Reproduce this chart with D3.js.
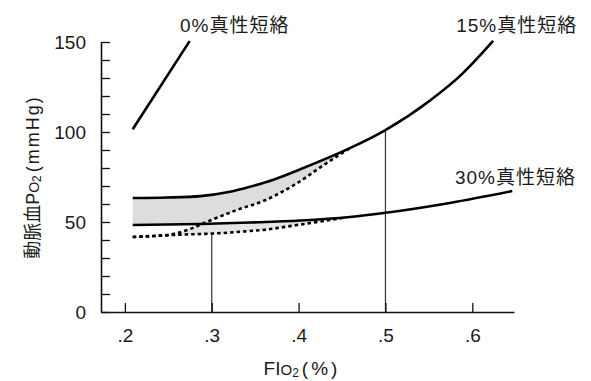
<!DOCTYPE html>
<html><head><meta charset="utf-8">
<script src="https://cdn.jsdelivr.net/npm/d3@7"></script>
<style>
html,body{margin:0;padding:0;background:#fff;}
svg text{font-family:"Liberation Sans","Noto Sans CJK JP",Arial,sans-serif;fill:#1a1a1a;font-weight:normal;}
</style></head>
<body><svg id="c" width="591" height="381"></svg>
<script>
// ---- data ----
const xTicks = [0.2, 0.3, 0.4, 0.5, 0.6];
const xTickLabels = [".2", ".3", ".4", ".5", ".6"];
const yTicks = [0,10,20,30,40,50,60,70,80,90,100,110,120,130,140,150];
const yTickLabels = {0:"0", 50:"50", 100:"100", 150:"150"};

const shunt0 = [[0.209,101.5],[0.2745,150.5]];
const shunt15 = [[0.209,63.3],[0.249,63.6],[0.287,64.4],[0.321,66.8],[0.344,69.6],[0.371,73.5],[0.402,79.3],[0.459,91.0],[0.499,100.8],[0.551,117.4],[0.589,132.6],[0.624,150.6]];
const shunt30 = [[0.209,48.3],[0.287,48.9],[0.344,49.7],[0.402,50.8],[0.459,52.8],[0.498,55.0],[0.574,60.6],[0.646,67.2]];
const dottedUpper = [[0.209,41.7],[0.249,42.8],[0.272,45.6],[0.295,50.2],[0.329,56.7],[0.359,61.6],[0.398,71.5],[0.430,82.0],[0.459,91.0]];
const dottedLower = [[0.209,41.7],[0.272,43.1],[0.302,43.6],[0.333,44.6],[0.359,45.6],[0.398,48.3],[0.436,51.1],[0.450,52.2]];
const refLines = [[0.3,43.6],[0.5,100.8]];
const labels = [
  {text:"0%真性短絡", x:0.2635, y:155.5},
  {text:"15%真性短絡", x:0.5815, y:155.5},
  {text:"30%真性短絡", x:0.580, y:71.3}
];

// ---- chart ----
const svg = d3.select("#c");
const x = d3.scaleLinear().domain([0.1725, 0.648]).range([101, 514]);
const y = d3.scaleLinear().domain([0, 150]).range([312, 42]);
const line = d3.line().x(d=>x(d[0])).y(d=>y(d[1])).curve(d3.curveMonotoneX);

const defs = svg.append("defs");
const uEnd = dottedUpper[dottedUpper.length-1];
defs.append("clipPath").attr("id","aboveU").append("path")
  .attr("d", line(dottedUpper) + "L" + x(uEnd[0]) + "," + y(160) + "L" + x(0.2) + "," + y(160) + "L" + x(0.2) + "," + y(dottedUpper[0][1]) + "Z");
defs.append("clipPath").attr("id","belowU").append("path")
  .attr("d", line(dottedUpper) + "L" + x(0.6) + "," + y(uEnd[1]) + "L" + x(0.6) + "," + y(0) + "L" + x(0.2) + "," + y(0) + "L" + x(0.2) + "," + y(dottedUpper[0][1]) + "Z");

const top15 = shunt15.filter(d=>d[0]<=0.46);
const bot30 = shunt30.filter(d=>d[0]<=0.46);
const region1 = line(top15) + "L" + line(bot30.slice().reverse()).slice(1) + "Z";
svg.append("path").attr("d", region1).attr("fill","#dcdddd").attr("clip-path","url(#aboveU)");
const region2 = line(bot30) + "L" + line(dottedLower.slice().reverse()).slice(1) + "Z";
svg.append("path").attr("d", region2).attr("fill","#e4e5e5").attr("clip-path","url(#belowU)");

// reference verticals
svg.selectAll(".ref").data(refLines).enter().append("line")
  .attr("x1",d=>x(d[0])).attr("x2",d=>x(d[0]))
  .attr("y1",y(0)).attr("y2",d=>y(d[1]))
  .attr("stroke","#333").attr("stroke-width",1.2);

// axes
const yAxis = d3.axisLeft(y).tickValues(yTicks).tickSizeInner(-9).tickSizeOuter(0)
  .tickPadding(15).tickFormat(d=>yTickLabels[d]||"");
const gy = svg.append("g").attr("transform","translate(101,0)").call(yAxis);
const xAxis = d3.axisBottom(x).tickValues(xTicks).tickSizeInner(-9).tickSizeOuter(0)
  .tickPadding(17).tickFormat((d,i)=>xTickLabels[i]);
const gx = svg.append("g").attr("transform","translate(0,312)").call(xAxis);
[gx,gy].forEach(g=>{
  g.select(".domain").attr("stroke","#111").attr("stroke-width",1.6);
  g.selectAll(".tick line").attr("stroke","#111").attr("stroke-width",1.3);
  g.selectAll(".tick text").attr("font-size",19).attr("fill","#1a1a1a")
   .style("font-family",'"Liberation Sans",Arial,sans-serif');
});

// curves
[shunt0, shunt15, shunt30].forEach(s=>{
  svg.append("path").attr("d",line(s)).attr("fill","none").attr("stroke","#000").attr("stroke-width",2.6);
});
[dottedUpper, dottedLower].forEach(s=>{
  svg.append("path").attr("d",line(s)).attr("fill","none").attr("stroke","#000")
    .attr("stroke-width",2.6).attr("stroke-dasharray","3.5,3");
});

// curve labels
svg.selectAll(".lab").data(labels).enter().append("text")
  .attr("x",d=>x(d.x)).attr("y",d=>y(d.y)).attr("text-anchor","start")
  .attr("font-size",19).attr("letter-spacing",1).text(d=>d.text);

// y label
const yl = svg.append("text").attr("transform","translate(39,177) rotate(-90)")
  .attr("text-anchor","middle").attr("font-size",18);
yl.append("tspan").text("動脈血P");
yl.append("tspan").attr("font-size",14).text("O");
yl.append("tspan").attr("font-size",12).attr("dy",2).text("2");
yl.append("tspan").attr("dy",-2).attr("letter-spacing",2).attr("dx",3).text("(mmHg)");

// x label
const xl = svg.append("text").attr("x",302).attr("y",375).attr("text-anchor","middle").attr("font-size",19);
xl.append("tspan").text("FI");
xl.append("tspan").attr("font-size",15).text("O");
xl.append("tspan").attr("font-size",12).attr("dy",2).text("2");
xl.append("tspan").attr("dy",-2).attr("dx",3).attr("letter-spacing",3).text("(%)");
</script></body></html>
